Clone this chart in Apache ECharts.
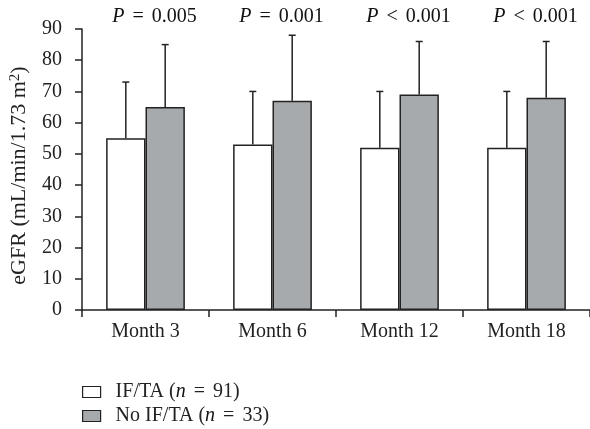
<!DOCTYPE html>
<html><head><meta charset="utf-8">
<script src="https://cdn.jsdelivr.net/npm/echarts@6/dist/echarts.min.js"></script>
<style>html,body{margin:0;padding:0;background:#fff}#c{width:590px;height:429px}</style>
</head><body><div id="c"></div>
<script>
const categories = ['Month 3', 'Month 6', 'Month 12', 'Month 18'];
const pOps = ['=', '=', '<', '<'];
const pValues = ['0.005', '0.001', '0.001', '0.001'];
const ifTaMean = [55, 53, 52, 52];
const ifTaUpper = [73, 70, 70, 70];
const noIfTaMean = [65, 67, 69, 68];
const noIfTaUpper = [85, 88, 86, 86];
const yTicks = [0, 10, 20, 30, 40, 50, 60, 70, 80, 90];

const FONT = '"Liberation Serif", "DejaVu Serif", serif';
const FS = 20;
const DARK = '#222';
const GRAY = '#a7aaad';
const GAP = 0.38;

function errSeries(means, uppers, sign) {
  return {
    type: 'custom',
    xAxisIndex: 0,
    data: means.map((m, i) => [i, m, uppers[i]]),
    z: 5,
    renderItem: function (params, api) {
      const i = api.value(0);
      const band = api.size([1, 0])[0];
      const bw = band * (1 - GAP) / 2;
      const base = api.coord([i, api.value(1)]);
      const top = api.coord([i, api.value(2)]);
      const x = base[0] + sign * bw / 2;
      const cap = 3.5;
      return {
        type: 'group',
        children: [
          { type: 'line', shape: { x1: x, y1: base[1], x2: x, y2: top[1] }, style: { stroke: DARK, lineWidth: 1.5 } },
          { type: 'line', shape: { x1: x - cap, y1: top[1], x2: x + cap, y2: top[1] }, style: { stroke: DARK, lineWidth: 1.5 } }
        ]
      };
    }
  };
}

const richBase = {
  i: { fontStyle: 'italic', fontFamily: FONT, fontSize: FS, color: '#111' },
  g: { width: 3, fontSize: FS }
};

const chart = echarts.init(document.getElementById('c'), null, { renderer: 'canvas' });
chart.setOption({
  animation: false,
  textStyle: { fontFamily: FONT },
  grid: { left: 82, top: 29, width: 508, height: 281, containLabel: false, outerBoundsMode: 'none' },
  legend: {
    orient: 'vertical', left: 77, top: 377, height: 60,
    icon: 'rect',
    itemWidth: 18, itemHeight: 11, itemGap: 4,
    data: ['IF/TA', 'No IF/TA'],
    formatter: function (name) {
      return name === 'IF/TA' ? 'IF/TA ({i|n} {g|}={g|} 91)' : 'No IF/TA ({i|n} {g|}={g|} 33)';
    },
    itemStyle: { borderColor: DARK, borderWidth: 1.2 },
    textStyle: {
      fontFamily: FONT, fontSize: FS, color: DARK, padding: [0, 0, 0, 10],
      rich: richBase
    }
  },
  xAxis: [{
    type: 'category', data: categories,
    axisLine: { lineStyle: { color: DARK, width: 1.5 } },
    axisTick: { show: true, length: 7, lineStyle: { color: DARK, width: 1.5 } },
    axisLabel: { fontFamily: FONT, fontSize: FS, color: DARK, margin: 12, interval: 0 }
  }, {
    type: 'category', data: categories, position: 'top', gridIndex: 0,
    axisLine: { show: false }, axisTick: { show: false },
    axisLabel: {
      margin: 2, interval: 0,
      formatter: function (v, idx) { return '{i|P} {g|}' + pOps[idx] + '{g|} ' + pValues[idx]; },
      color: '#111', fontFamily: FONT, fontSize: FS, padding: [0, 0, 0, 18],
      rich: richBase
    }
  }],
  yAxis: {
    type: 'value', min: 0, max: 90, interval: 10,
    name: 'eGFR (mL/min/1.73 m{s|2})', nameLocation: 'middle', nameGap: 51, nameRotate: 90,
    nameTextStyle: { fontFamily: FONT, fontSize: 22, color: DARK, padding: [0, 12, 0, 0],
      rich: { s: { fontFamily: FONT, fontSize: 15, color: DARK, verticalAlign: 'top', padding: [0, 0, 8, 0] } } },
    axisLine: { show: true, lineStyle: { color: DARK, width: 1.5 } },
    axisTick: { show: true, length: 7, lineStyle: { color: DARK, width: 1.5 } },
    splitLine: { show: false },
    axisLabel: { fontFamily: FONT, fontSize: FS, color: DARK, margin: 20,
      formatter: function (v) { return yTicks.indexOf(v) >= 0 ? String(v) : ''; } }
  },
  series: [
    { name: 'IF/TA', type: 'bar', data: ifTaMean, barGap: '0%', barCategoryGap: (GAP * 100) + '%',
      itemStyle: { color: '#fff', borderColor: DARK, borderWidth: 1.5 } },
    { name: 'No IF/TA', type: 'bar', data: noIfTaMean, barGap: '0%', barCategoryGap: (GAP * 100) + '%',
      itemStyle: { color: GRAY, borderColor: DARK, borderWidth: 1.5 } },
    errSeries(ifTaMean, ifTaUpper, -1),
    errSeries(noIfTaMean, noIfTaUpper, 1)
  ]
});
</script></body></html>
